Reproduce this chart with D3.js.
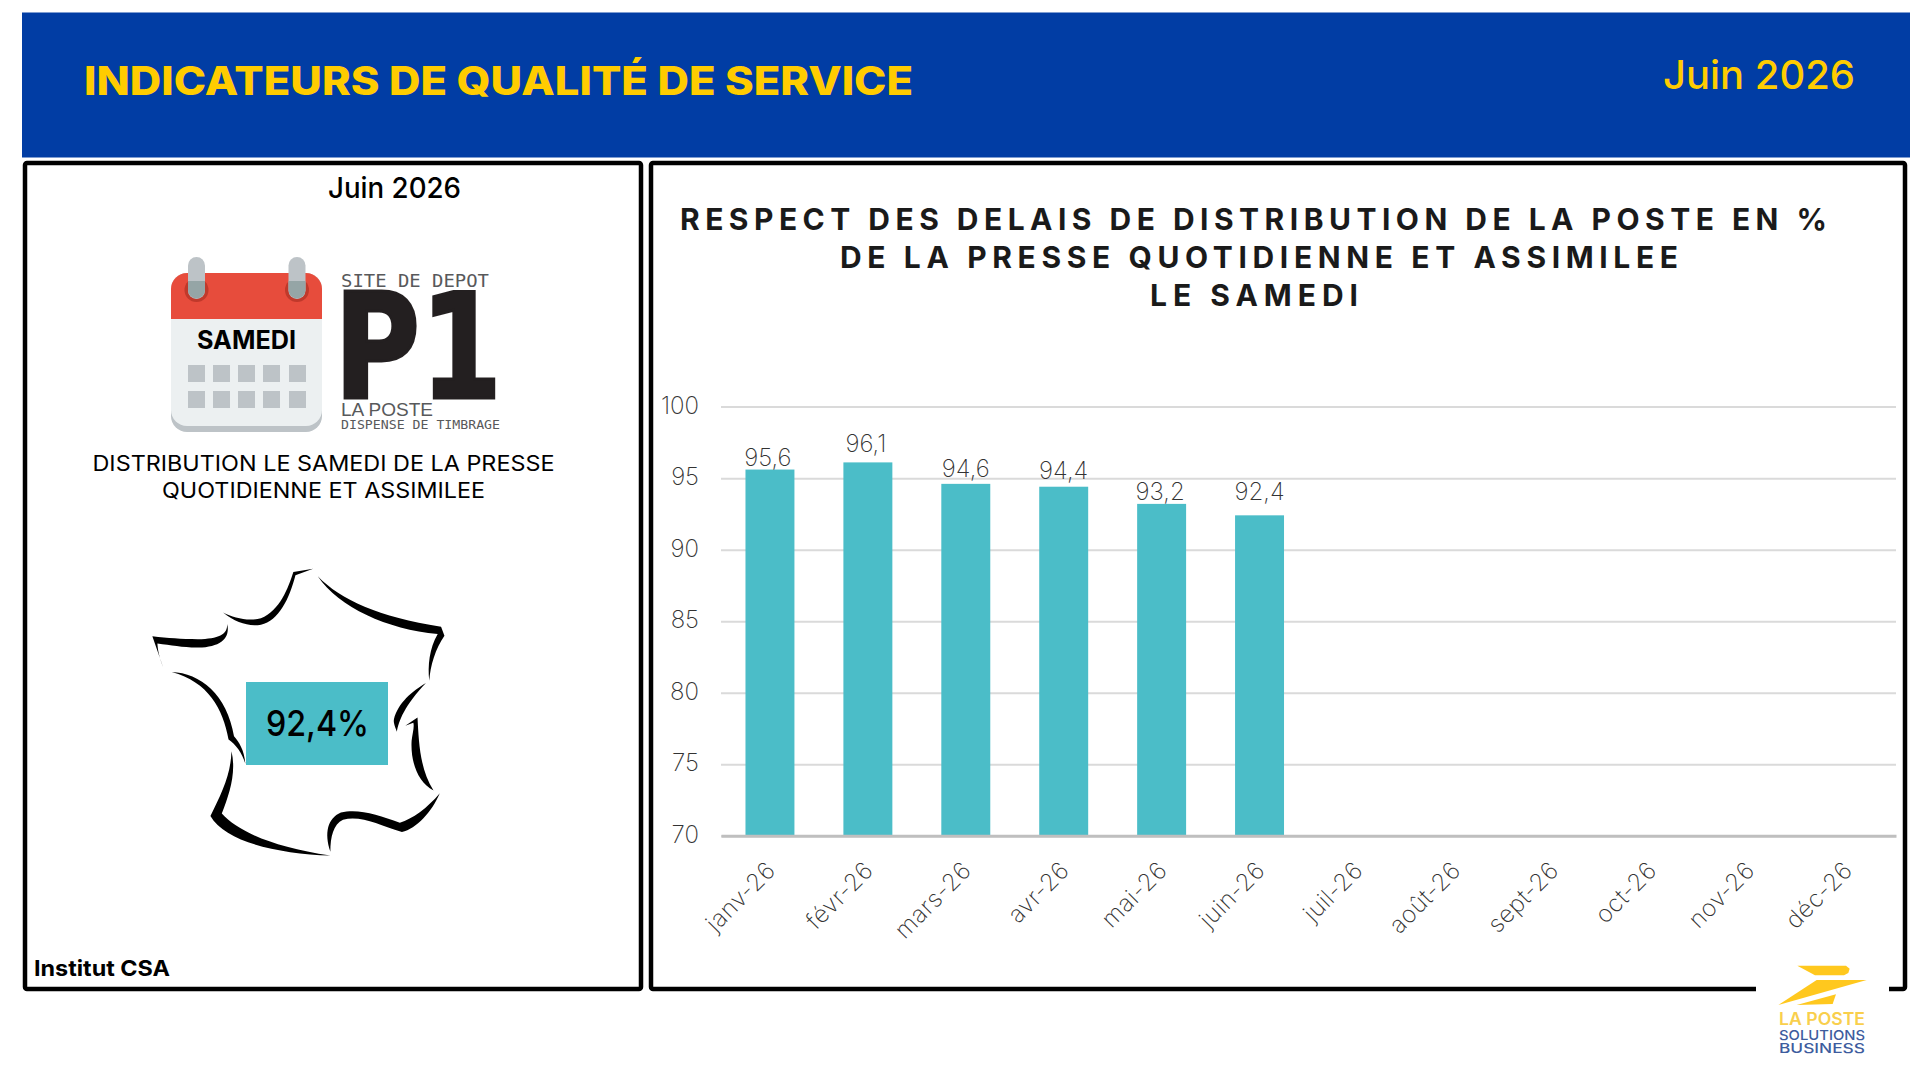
<!DOCTYPE html>
<html lang="fr"><head><meta charset="utf-8">
<script src="https://cdn.jsdelivr.net/npm/d3@7/dist/d3.min.js"></script>
<style>
html,body{margin:0;padding:0;background:#fff;overflow:hidden}
svg{display:block}
text{font-family:Inter,"Noto Sans",sans-serif}
</style></head><body><svg id="c" width="1918" height="1078"></svg>
<script>
const categories=["janv-26","févr-26","mars-26","avr-26","mai-26","juin-26","juil-26","août-26","sept-26","oct-26","nov-26","déc-26"];
const months=["janv-26","févr-26","mars-26","avr-26","mai-26","juin-26"];
const values=[95.6,96.1,94.6,94.4,93.2,92.4];
const yTicks=[70,75,80,85,90,95,100];
const titleLines=["RESPECT DES DELAIS DE DISTRIBUTION DE LA POSTE EN %","DE LA PRESSE QUOTIDIENNE ET ASSIMILEE","LE SAMEDI"];
const labelGap=[4,10,7,8,3.5,15];
const labelShift=[-2,-2,0,0,-1.5,0];
const fr=d3.format(".1f");
const comma=v=>fr(v).replace(".",",");
const svg=d3.select("#c");
const TEAL="#4BBDC8",YEL="#FFCC00",BLUE="#013DA4";

function T(g,s,x,y,o={}){
  const t=g.append("text").text(s).attr("x",x).attr("y",y)
    .attr("font-size",o.size||20).attr("font-weight",o.weight||400).attr("fill",o.fill||"#000")
    .attr("text-anchor",o.anchor||"start");
  if(o.family)t.style("font-family",o.family);
  if(o.len){t.attr("textLength",o.len).attr("lengthAdjust",o.adjust||"spacingAndGlyphs");}
  return t;
}
// header
svg.append("rect").attr("x",22).attr("y",12.5).attr("width",1888).attr("height",145).attr("fill",BLUE);
T(svg,"INDICATEURS DE QUALITÉ DE SERVICE",84,95,{size:39,weight:800,fill:YEL,len:829});
T(svg,"Juin 2026",1663,89,{size:39,weight:500,fill:YEL,len:192});

// panels
const panel=(x0,x1)=>svg.append("rect").attr("x",x0).attr("y",163).attr("width",x1-x0).attr("height",826)
  .attr("rx",2).attr("fill","#fff").attr("stroke","#000").attr("stroke-width",4.5);
panel(25,641); panel(651,1905);

// left panel
const L=svg.append("g");
T(L,"Juin 2026",328,198,{size:28,weight:500,len:133});
const cal=L.append("g");
cal.append("rect").attr("x",171).attr("y",273).attr("width",151).attr("height",159).attr("rx",16).attr("fill","#BDC3C7");
cal.append("rect").attr("x",171).attr("y",273).attr("width",151).attr("height",153).attr("rx",16).attr("fill","#ECF0F1");
cal.append("path").attr("d","M171 319V289a16 16 0 0 1 16-16H306a16 16 0 0 1 16 16V319Z").attr("fill","#E74C3C");
[196.5,297].forEach(x=>{
  cal.append("circle").attr("cx",x).attr("cy",290).attr("r",12).attr("fill","#C0392B");
  cal.append("rect").attr("x",x-8.5).attr("y",257).attr("width",17).attr("height",42).attr("rx",8.5).attr("fill","#BDC3C7");
  cal.append("path").attr("d",`M${x-8.5} 281H${x+8.5}V290a8.5 8.5 0 0 1-17 0Z`).attr("fill","#95A5A6");
});
[188,213,238,263,289].forEach(x=>[365,391].forEach(y=>
  cal.append("rect").attr("x",x).attr("y",y).attr("width",17).attr("height",17).attr("fill","#BDC3C7")));
T(L,"SAMEDI",197,349,{size:25,weight:700,len:99});
const mono="'DejaVu Sans Mono',monospace";
T(L,"SITE DE DEPOT",341,287,{size:17,fill:"#58595b",family:mono,len:148});
T(L,"P1",334,398,{size:146,weight:700,fill:"#231F20",family:"'DejaVu Sans'",len:168}).attr("stroke","#231F20").attr("stroke-width",3);
T(L,"LA POSTE",341,416,{size:18,fill:"#58595b",family:"'Liberation Sans'",len:92});
T(L,"DISPENSE DE TIMBRAGE",341,429,{size:13,weight:400,fill:"#58595b",family:mono,len:159});
T(L,"DISTRIBUTION LE SAMEDI DE LA PRESSE",92.5,471,{size:21,len:462});
T(L,"QUOTIDIENNE ET ASSIMILEE",162,498,{size:21,len:323});

// France outline
const fx=L.append("g").attr("transform",`translate(0,520) scale(${1/2.376},${1/2.81})`);
["M744 137L697 146C685 190 665 255 620 276C590 286 555 275 530 260C560 288 590 300 620 294C662 284 688 220 702 155Z",
 "M755 158C810 225 900 272 1048 300L1056 325C1035 360 1022 410 1020 452C1016 410 1020 360 1040 320C920 308 805 245 755 158Z",
 "M540 292C540 323 520 333 470 335C430 335 400 332 362 327L388 415C378 385 375 365 374 347C410 352 440 360 480 358C527 354 547 330 540 292Z",
 "M408 427C475 430 540 490 556 608C568 625 580 645 583 685C575 655 560 630 543 617C530 530 495 455 408 427Z",
 "M550 650C562 710 545 770 527 825C565 875 650 920 785 943C660 938 535 905 500 832C525 770 548 720 550 650Z",
 "M785 932C770 880 778 838 810 822C850 810 900 828 950 851C980 840 1015 810 1045 768C1025 822 990 867 955 877C900 857 860 830 815 842C792 855 785 890 785 932Z",
 "M1012 458C980 480 945 515 936 560C934 570 940 585 943 595C947 565 962 520 1012 458Z",
 "M963 578L992 555C995 620 997 700 1030 760C993 737 975 680 978 620C980 600 985 580 982 570Z"
].forEach(d=>fx.append("path").attr("d",d).attr("fill","#000"));
L.append("rect").attr("x",246).attr("y",682).attr("width",142).attr("height",83).attr("fill",TEAL);
T(L,"92,4%",317.5,736,{size:36,weight:500,anchor:"middle",len:103});
T(L,"Institut CSA",34,976,{size:22,weight:700,len:136});

// title
const TG=svg.append("g");
[[680,230,1147],[840,268,838],[1150,306,208]].forEach((p,i)=>
  T(TG,titleLines[i],p[0],p[1],{size:30,weight:700,fill:"#1a1a1a",len:p[2],adjust:"spacing"}));

// chart
const x=d3.scaleBand().domain(categories).range([721,1896]).paddingInner(0.5).paddingOuter(0.25);
const y=d3.scaleLinear().domain([70,100]).range([835.8,406.6]);
const grid=svg.append("g").attr("class","grid").attr("transform","translate(721,0)")
  .call(d3.axisLeft(y).tickValues(yTicks).tickSize(-1175).tickFormat(""));
grid.select(".domain").remove();
grid.selectAll("line").attr("stroke","#DADADA").attr("stroke-width",2);
const ya=svg.append("g").attr("transform","translate(699,-1)")
  .call(d3.axisLeft(y).tickValues(yTicks).tickSize(0).tickPadding(0).tickFormat(d3.format("d")));
ya.select(".domain").remove();
ya.selectAll("text").attr("font-size",24).attr("font-weight",200).attr("fill","#333").style("font-family","Inter").attr("dy","0.32em");

svg.append("g").selectAll("rect").data(values).join("rect")
  .attr("x",(d,i)=>x(months[i])).attr("width",x.bandwidth())
  .attr("y",d=>y(d)).attr("height",d=>y(70)-y(d)).attr("fill",TEAL);

const xa=svg.append("g").attr("transform","translate(0,835.8)").call(d3.axisBottom(x).tickSize(0).tickPadding(0));
xa.select(".domain").attr("stroke","#BFBFBF").attr("stroke-width",3);
xa.selectAll("text").attr("font-size",24).attr("font-weight",200).attr("fill","#333")
  .style("font-family","Inter").style("letter-spacing","0.5px")
  .attr("text-anchor","end").attr("x",0).attr("y",0).attr("dy",0)
  .attr("transform","translate(7,36) rotate(-45)");

svg.append("g").selectAll("text").data(values).join("text")
  .text(comma)
  .attr("x",(d,i)=>x(months[i])+x.bandwidth()/2+labelShift[i])
  .attr("y",(d,i)=>y(d)-labelGap[i])
  .attr("text-anchor","middle").attr("font-size",24).attr("font-weight",200).attr("fill","#333");

// logo
const lg=svg.append("g");
lg.append("rect").attr("x",1756).attr("y",975).attr("width",133).attr("height",100).attr("fill","#fff");
const pt=a=>a.map(p=>[1700+p[0]/3,900+p[1]/3].join(",")).join(" ");
[[[292,197],[438,197],[449,206],[445,219],[432,226],[345,226]],
 [[235,315],[350,240],[500,240]],
 [[290,315],[408,283],[398,312]]].forEach(a=>lg.append("polygon").attr("points",pt(a)).attr("fill","#FFC81E"));
T(lg,"LA POSTE",1779,1025,{size:17,weight:600,fill:"#F9CF4C",len:86});
T(lg,"SOLUTIONS",1779,1040,{size:13.5,weight:500,fill:"#3D5C9E",len:86});
T(lg,"BUSINESS",1779,1053,{size:13.5,weight:500,fill:"#3D5C9E",len:86});
</script></body></html>
